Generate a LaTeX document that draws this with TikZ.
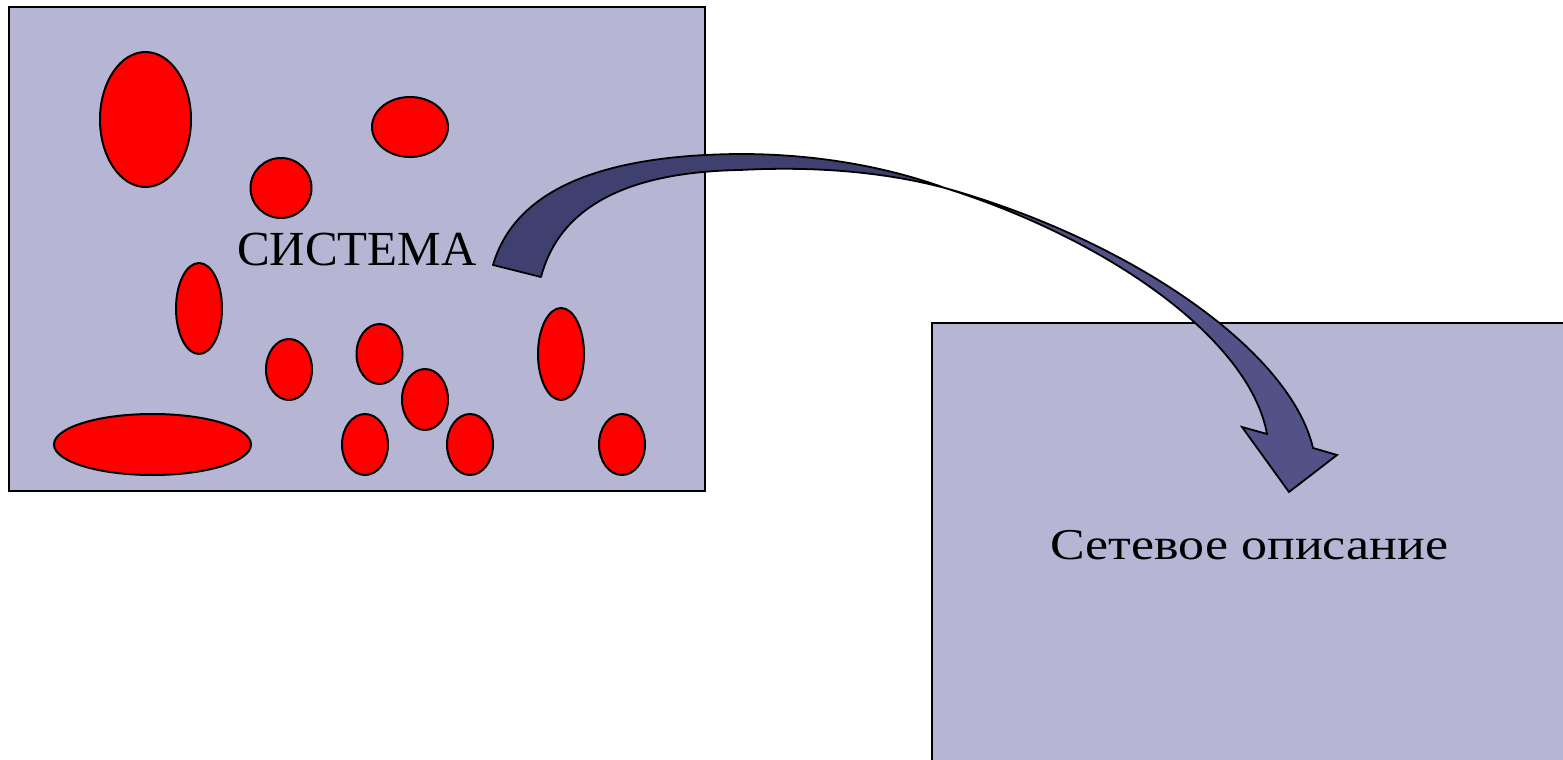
\documentclass[tikz,border=0pt]{standalone}
\usepackage{fontspec}
\setmainfont{Liberation Serif}
\newfontfamily\widefont[FakeStretch=1.18]{Liberation Serif}
\definecolor{panel}{RGB}{182,182,212}
\definecolor{blob}{RGB}{255,0,0}
\definecolor{arrowback}{RGB}{64,64,112}
\definecolor{arrowfront}{RGB}{82,82,136}
\tikzset{
  panelbox/.style={fill=panel, draw=black, line width=2pt},
  blobshape/.style={fill=blob, draw=black, line width=2pt},
  bandback/.style={fill=arrowback, draw=black, line width=1.8pt, line join=round},
  bandfront/.style={fill=arrowfront, draw=black, line width=1.8pt, line join=miter},
  bigtext/.style={font=\fontsize{49}{58}\selectfont, inner sep=0pt, anchor=base},
  midtext/.style={font=\widefont\fontsize{44}{52}\selectfont, inner sep=0pt, anchor=base}
}
\begin{document}
\begin{tikzpicture}[x=1pt, y=-1pt]
\useasboundingbox (0,0) rectangle (1563,760);
\clip (0,0) rectangle (1563,760);

% system panel
\draw[panelbox] (9,7) rectangle (705,491);

% elements of the system
\draw[blobshape] (145.5,119.5) ellipse [x radius=45.5, y radius=67.5];
\draw[blobshape] (410,127) ellipse [x radius=38, y radius=30];
\draw[blobshape] (281,188) ellipse [x radius=30.5, y radius=30];
\draw[blobshape] (199,308.5) ellipse [x radius=23, y radius=45.5];
\draw[blobshape] (289,369.5) ellipse [x radius=23, y radius=30.5];
\draw[blobshape] (152.5,444.5) ellipse [x radius=98.5, y radius=30.5];
\draw[blobshape] (379.5,354) ellipse [x radius=23, y radius=30];
\draw[blobshape] (425,399.5) ellipse [x radius=23, y radius=30.5];
\draw[blobshape] (365,444.5) ellipse [x radius=23, y radius=30.5];
\draw[blobshape] (470,444.5) ellipse [x radius=23, y radius=30.5];
\draw[blobshape] (561,354) ellipse [x radius=23, y radius=46];
\draw[blobshape] (622,444.5) ellipse [x radius=23, y radius=30.5];

\node[bigtext] (sys) at (357,265) {СИСТЕМА};

% network description panel
\draw[panelbox] (932,323) rectangle (1580,780);
\node[midtext] (net) at (1249.5,559) {Сетевое описание};

% curved arrow: back face
\draw[bandback]
  (493,265) .. controls (515,190) and (600,155) .. (740,154)
  .. controls (820,154) and (890,168) .. (945,188)
  .. controls (885,172) and (815,166) .. (740,170)
  .. controls (630,172) and (560,205) .. (541,277) -- cycle;

% curved arrow: front face with head
\draw[bandfront]
  (945,188) .. controls (1130,240) and (1290,350) .. (1313,448)
  -- (1337,455) -- (1289,492) -- (1242,427) -- (1267,434)
  .. controls (1250,340) and (1110,240) .. (945,188) -- cycle;
\end{tikzpicture}
\end{document}
